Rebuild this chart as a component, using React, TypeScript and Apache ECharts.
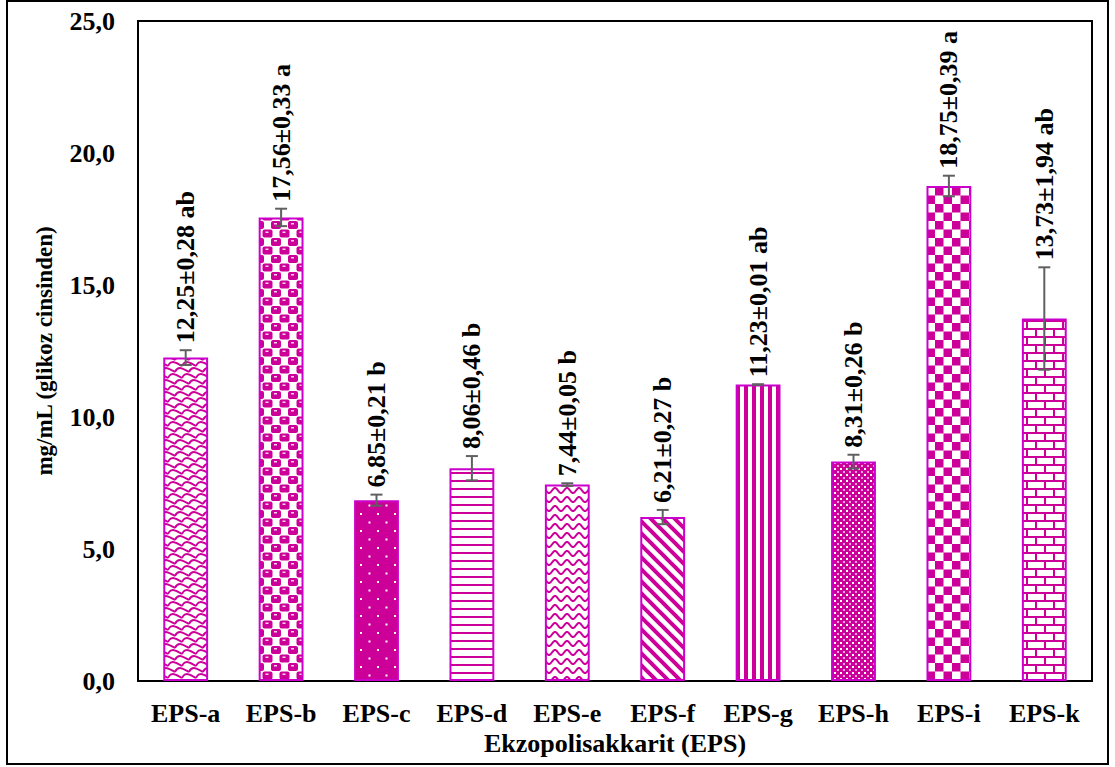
import React, { useEffect, useRef } from "react";
import * as echarts from "echarts";

// Sample names, mean values, standard deviations and significance letters
const categories = ["EPS-a", "EPS-b", "EPS-c", "EPS-d", "EPS-e", "EPS-f", "EPS-g", "EPS-h", "EPS-i", "EPS-k"];
const means = [12.25, 17.56, 6.85, 8.06, 7.44, 6.21, 11.23, 8.31, 18.75, 13.73];
const sds = [0.28, 0.33, 0.21, 0.46, 0.05, 0.27, 0.01, 0.26, 0.39, 1.94];
const letters = ["ab", "a", "b", "b", "b", "b", "ab", "b", "a", "ab"];
const yTicks = [0, 5, 10, 15, 20, 25];

const MAG = "#CC0099";
const EDGE = "#CC00CC";
const FONT = "'Times New Roman', 'Liberation Serif', serif";

const fmt = (v: number, d: number) => v.toFixed(d).replace(".", ",");

type Draw = (ctx: CanvasRenderingContext2D, w: number, h: number) => void;

function tile(w: number, h: number, draw: Draw) {
  const c = document.createElement("canvas");
  c.width = w;
  c.height = h;
  const ctx = c.getContext("2d") as CanvasRenderingContext2D;
  ctx.fillStyle = "#fff";
  ctx.fillRect(0, 0, w, h);
  draw(ctx, w, h);
  return { image: c.toDataURL(), repeat: "repeat", imageWidth: w, imageHeight: h } as any;
}

function buildPatterns() {
  // shingles: staggered arches
  const shingle = tile(14, 12, (ctx) => {
    ctx.strokeStyle = MAG;
    ctx.lineWidth = 2;
    const arch = (x0: number, y0: number) => {
      ctx.beginPath();
      ctx.moveTo(x0, y0);
      ctx.bezierCurveTo(x0 + 3, y0 - 7, x0 + 9, y0 - 3, x0 + 14, y0);
      ctx.stroke();
    };
    arch(0, 6);
    arch(-7, 12);
    arch(7, 12);
    arch(-7, 0);
    arch(7, 0);
  });
  // spheres in a checker arrangement
  const spheres = tile(17, 17, (ctx) => {
    const blob = (x: number, y: number) => {
      const w = 10;
      const h = 8;
      ctx.fillStyle = MAG;
      ctx.beginPath();
      ctx.moveTo(x + 2, y);
      ctx.lineTo(x + w - 2, y);
      ctx.quadraticCurveTo(x + w, y, x + w, y + 2);
      ctx.lineTo(x + w, y + h - 2);
      ctx.quadraticCurveTo(x + w, y + h, x + w - 2, y + h);
      ctx.lineTo(x + 2, y + h);
      ctx.quadraticCurveTo(x, y + h, x, y + h - 2);
      ctx.lineTo(x, y + 2);
      ctx.quadraticCurveTo(x, y, x + 2, y);
      ctx.fill();
      ctx.fillStyle = "#F6D3EC";
      ctx.fillRect(x + 3, y + 2, 3, 1.5);
    };
    for (const dx of [-17, 0, 17]) {
      blob(dx - 1, 0);
      blob(dx + 7.5, 8.5);
      blob(dx - 1, 17);
    }
  });
  // solid with white dots
  const dots = tile(17, 17, (ctx) => {
    ctx.fillStyle = MAG;
    ctx.fillRect(0, 0, 17, 17);
    ctx.fillStyle = "#fff";
    ctx.fillRect(3, 3, 2, 2);
    ctx.fillRect(11.5, 11.5, 2, 2);
  });
  // horizontal lines
  const hlines = tile(4, 8, (ctx) => {
    ctx.fillStyle = MAG;
    ctx.fillRect(0, 0, 4, 2);
  });
  // waves
  const waves = tile(12, 9, (ctx) => {
    ctx.strokeStyle = MAG;
    ctx.lineWidth = 2;
    ctx.beginPath();
    for (let x = -1; x <= 13; x += 0.5) {
      const y = 4.5 - 2.5 * Math.sin((2 * Math.PI * x) / 12);
      if (x === -1) ctx.moveTo(x, y);
      else ctx.lineTo(x, y);
    }
    ctx.stroke();
  });
  // wide downward diagonal
  const diag = tile(12, 12, (ctx) => {
    ctx.strokeStyle = MAG;
    ctx.lineWidth = 4;
    for (let k = -1; k <= 1; k++) {
      ctx.beginPath();
      ctx.moveTo(-2, k * 12 - 2);
      ctx.lineTo(14, 14 + k * 12);
      ctx.stroke();
    }
  });
  // vertical stripes
  const vlines = tile(8, 4, (ctx) => {
    ctx.fillStyle = MAG;
    ctx.fillRect(0, 0, 4, 4);
  });
  // small plaid
  const plaid = tile(6, 6, (ctx) => {
    ctx.fillStyle = MAG;
    ctx.fillRect(0, 0, 6, 6);
    ctx.fillStyle = "#fff";
    ctx.fillRect(0, 0, 2, 2);
    ctx.fillStyle = "#EBA3D8";
    ctx.fillRect(3, 3, 2, 2);
  });
  // large checkerboard
  const checker = tile(17, 17, (ctx) => {
    ctx.fillStyle = MAG;
    ctx.fillRect(0, 0, 8.5, 8.5);
    ctx.fillRect(8.5, 8.5, 8.5, 8.5);
  });
  // horizontal bricks
  const bricks = tile(18, 16, (ctx) => {
    ctx.fillStyle = MAG;
    ctx.fillRect(0, 0, 18, 2);
    ctx.fillRect(0, 8, 18, 2);
    ctx.fillRect(0, 0, 2, 8);
    ctx.fillRect(9, 8, 2, 8);
  });
  return [shingle, spheres, dots, hlines, waves, diag, vlines, plaid, checker, bricks];
}

export default function App() {
  const ref = useRef<HTMLDivElement>(null);

  useEffect(() => {
    document.body.style.margin = "0";
    const chart = echarts.init(ref.current as HTMLDivElement, undefined, { renderer: "svg" });
    const patterns = buildPatterns();

    const option: any = {
      animation: false,
      backgroundColor: "#fff",
      grid: {
        left: 138,
        top: 21,
        right: 23,
        bottom: 86,
        show: true,
        borderColor: "#000",
        borderWidth: 2,
        backgroundColor: "transparent",
      },
      xAxis: {
        type: "category",
        data: categories,
        axisLine: { show: false },
        axisTick: { show: false },
        axisLabel: {
          margin: 19,
          fontFamily: FONT,
          fontWeight: "bold",
          fontSize: 26,
          color: "#000",
        },
        name: "Ekzopolisakkarit (EPS)",
        nameLocation: "middle",
        nameGap: 47,
        nameTextStyle: { fontFamily: FONT, fontWeight: "bold", fontSize: 26, color: "#000" },
      },
      yAxis: {
        type: "value",
        min: yTicks[0],
        max: yTicks[yTicks.length - 1],
        interval: yTicks[1] - yTicks[0],
        splitLine: { show: false },
        axisLine: { show: false },
        axisTick: { show: false },
        axisLabel: {
          margin: 23,
          fontFamily: FONT,
          fontWeight: "bold",
          fontSize: 26,
          color: "#000",
          formatter: (v: number) => fmt(v, 1),
        },
        name: "mg/mL (glikoz cinsinden)",
        nameLocation: "middle",
        nameRotate: 90,
        nameGap: 82,
        nameTextStyle: { fontFamily: FONT, fontWeight: "bold", fontSize: 23, color: "#000" },
      },
      series: [
        {
          type: "bar",
          barWidth: "47%",
          data: means.map((m, i) => ({
            value: m,
            itemStyle: { color: patterns[i], borderColor: EDGE, borderWidth: 2 },
          })),
          z: 2,
        },
        {
          type: "custom",
          z: 5,
          clip: false,
          data: means.map((m, i) => [i, m, sds[i]]),
          encode: { x: 0, y: 1 },
          renderItem: (params: any, api: any) => {
            const i = api.value(0);
            const m = api.value(1);
            const s = api.value(2);
            const hi = api.coord([i, m + s]);
            const lo = api.coord([i, m - s]);
            const cap = 6;
            const lineStyle = { stroke: "#606060", lineWidth: 2 };
            return {
              type: "group",
              children: [
                { type: "line", shape: { x1: hi[0], y1: hi[1], x2: lo[0], y2: lo[1] }, style: lineStyle },
                { type: "line", shape: { x1: hi[0] - cap, y1: hi[1], x2: hi[0] + cap, y2: hi[1] }, style: lineStyle },
                { type: "line", shape: { x1: lo[0] - cap, y1: lo[1], x2: lo[0] + cap, y2: lo[1] }, style: lineStyle },
                {
                  type: "text",
                  x: hi[0],
                  y: hi[1] - 7,
                  rotation: Math.PI / 2,
                  style: {
                    text: `${fmt(m, 2)}±${fmt(s, 2)} ${letters[params.dataIndex]}`,
                    fontFamily: FONT,
                    fontWeight: "bold",
                    fontSize: 26,
                    fill: "#000",
                    align: "left",
                    verticalAlign: "middle",
                  },
                },
              ],
            };
          },
        },
      ],
      graphic: [
        {
          type: "rect",
          z: 100,
          shape: { x: 7, y: 1, width: 1101, height: 763 },
          style: { fill: "none", stroke: "#000", lineWidth: 2 },
        },
      ],
    };

    chart.setOption(option);
    return () => chart.dispose();
  }, []);

  return <div ref={ref} style={{ width: 1115, height: 767 }} />;
}
